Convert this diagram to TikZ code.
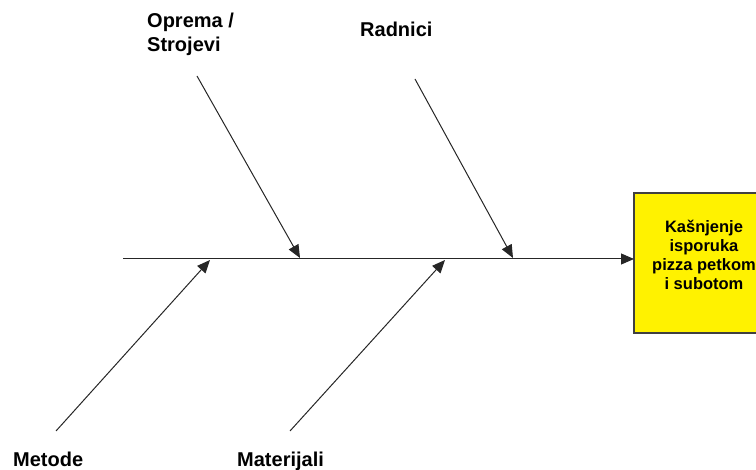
\documentclass[tikz,border=0pt]{standalone}
\usepackage{fontspec}
\setmainfont{Liberation Sans}
\usetikzlibrary{arrows.meta}
\begin{document}
\begin{tikzpicture}[x=1pt,y=-1pt,
  bone/.style={line width=1pt,draw=black!85,-{Triangle[length=13pt,width=11pt]}},
  cause/.style={font=\bfseries\fontsize{20}{24}\selectfont,align=left,inner sep=0pt,anchor=base west},
  effecttext/.style={font=\bfseries\fontsize{16.5}{19}\selectfont,align=center,inner sep=0pt,anchor=north}]
\useasboundingbox (0,0) rectangle (756,470);
% effect box
\path[fill=yellow,draw=black!75,line width=1.5pt] (634,193) rectangle (790,333);
\node[effecttext] (effect) at (704,220) {Kašnjenje\\isporuka\\pizza petkom\\i subotom};
\coordinate (boxw) at (634,259);
% spine
\coordinate (tail) at (123,259);
\draw[bone] (tail) -- (boxw);
% cause labels
\node[cause] (oprema) at (147,52) {Oprema /\\Strojevi};
\node[cause] (radnici) at (360,37) {Radnici};
\node[cause] (metode) at (13,467) {Metode};
\node[cause] (materijali) at (237,467) {Materijali};
% bones
\coordinate (o1) at (197,76);  \coordinate (o2) at (300,258);
\coordinate (r1) at (415,79);  \coordinate (r2) at (513,258);
\coordinate (m1) at (56,431);  \coordinate (m2) at (210,260);
\coordinate (t1) at (290,431); \coordinate (t2) at (445,260);
\draw[bone] (o1) -- (o2);
\draw[bone] (r1) -- (r2);
\draw[bone] (m1) -- (m2);
\draw[bone] (t1) -- (t2);
\end{tikzpicture}
\end{document}
